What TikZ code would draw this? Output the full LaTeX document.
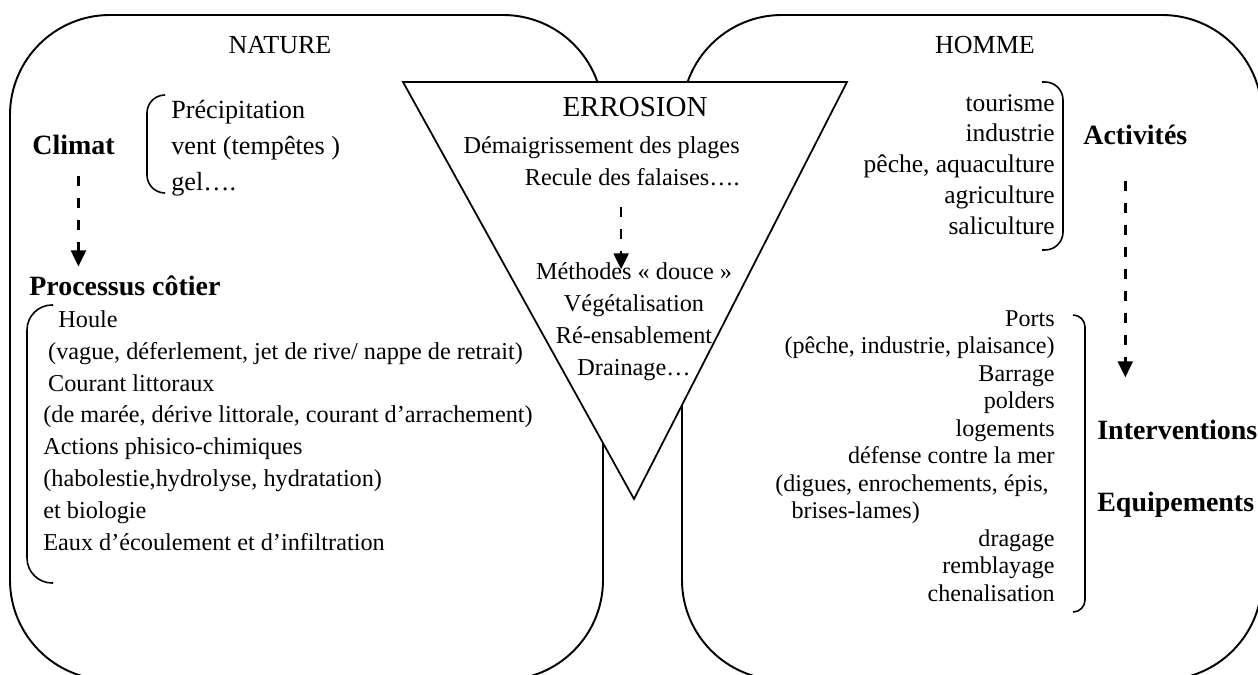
\documentclass[tikz,border=0pt]{standalone}
\usepackage{fontspec}
\setmainfont{Liberation Serif}
\usetikzlibrary{arrows.meta}

\begin{document}
\begin{tikzpicture}[x=0.02cm,y=-0.02cm,
    box/.style={draw,line width=1.1pt,rounded corners=2cm},
    bracket/.style={draw,line width=0.9pt},
    title/.style={inner sep=0pt,font=\fontsize{14.8}{17}\selectfont},
    head/.style={inner sep=0pt,font=\fontsize{15.9}{18}\selectfont\bfseries},
    item/.style={inner sep=0pt,font=\fontsize{13.8}{18.1}\selectfont},
    flow/.style={-{Triangle[width=0.3cm,length=0.32cm]},line width=1.4pt,
                 dash pattern=on 0.2cm off 0.24cm}]
  \useasboundingbox (0,0) rectangle (1258,675);

  \draw[box] (10,15) rectangle (603,680);
  \draw[box] (682,15) rectangle (1262,680);
  \draw[line width=1pt,fill=white] (403,82) -- (847,82) -- (634,499) -- cycle;

  % NATURE (multi-line nodes are placed by the baseline of their last line)
  \node[title,anchor=base] (nature) at (280,54) {NATURE};
  \node[head,anchor=base west] (climat) at (32,154.5) {Climat};
  \node[item,anchor=base west,align=left,font=\fontsize{14.9}{20.5}\selectfont] (meteo) at (171,191)
    {Précipitation\\vent (tempêtes )\\gel….};
  \node[head,anchor=base west] (processus) at (29,296) {Processus côtier};
  \node[item,anchor=base west,align=left] (agents) at (43,550.1)
    {\hspace*{0.62em}Houle\\\hspace*{0.2em}(vague, déferlement, jet de rive/ nappe de retrait)\\
     \hspace*{0.2em}Courant littoraux\\(de marée, dérive littorale, courant d’arrachement)\\
     Actions phisico-chimiques\\(habolestie,hydrolyse, hydratation)\\et biologie\\
     Eaux d’écoulement et d’infiltration};

  % ERROSION
  \node[title,anchor=base,font=\fontsize{16.5}{19}\selectfont] (erosion) at (635,116.6) {ERROSION};
  \node[item,anchor=base east,align=right] (effets) at (740,185.8)
    {Démaigrissement des plages\\Recule des falaises….};
  \node[item,anchor=base,align=center] (methodes) at (634,375.4)
    {Méthodes « douce »\\Végétalisation\\Ré-ensablement\\Drainage…};

  % HOMME
  \node[title,anchor=base] (homme) at (985,54) {HOMME};
  \node[item,anchor=base east,align=right,font=\fontsize{14.5}{17.6}\selectfont] (secteurs) at (1055,234.7)
    {tourisme\\industrie\\pêche, aquaculture\\agriculture\\saliculture};
  \node[head,anchor=base west] (activites) at (1083,144.5) {Activités};
  \node[item,anchor=base east,align=right,font=\fontsize{13.7}{15.65}\selectfont] (ouvrages) at (1055,601)
    {Ports\\(pêche, industrie, plaisance)\\Barrage\\polders\\logements\\défense contre la mer\\
     (digues, enrochements, épis,\hspace*{0.25em}\null\\brises-lames)\hspace*{5.6em}\null\\
     dragage\\remblayage\\chenalisation};
  \node[head,anchor=base west] (interventions) at (1097,439.5) {Interventions};
  \node[head,anchor=base west] (equipements) at (1097,511.5) {Equipements};

  \draw[bracket,rounded corners=0.36cm] (165,95) -- (147,95) -- (147,193) -- (165,193);
  \draw[bracket,rounded corners=0.5cm] (53,305) -- (27,305) -- (27,583) -- (53,583);
  \draw[bracket,rounded corners=0.36cm] (1042,82) -- (1063,82) -- (1063,250) -- (1042,250);
  \draw[bracket,rounded corners=0.24cm] (1073,315) -- (1085,315) -- (1085,612) -- (1073,612);

  \draw[flow] ([shift={(5,20.5)}]climat.south) coordinate (c1) -- ([yshift=0.19cm]c1 |- processus.north);
  \draw[flow] ([shift={(19.5,21)}]effets.south) coordinate (c2) -- ([yshift=-0.13cm]c2 |- methodes.north);
  \draw[flow] ([shift={(-10,35.5)}]activites.south) coordinate (c3) -- ([yshift=0.85cm]c3 |- interventions.north);
\end{tikzpicture}
\end{document}
